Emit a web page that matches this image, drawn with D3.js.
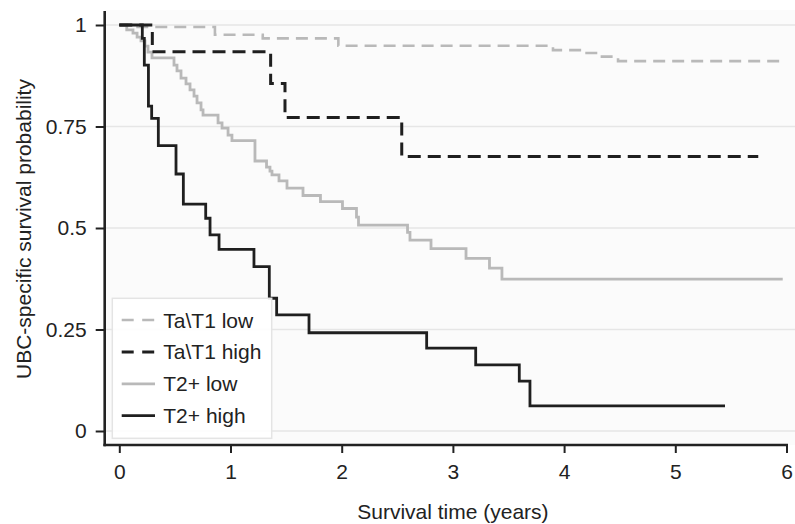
<!DOCTYPE html>
<html><head><meta charset="utf-8">
<script src="https://cdn.jsdelivr.net/npm/d3@7"></script>
<style>
body{margin:0;background:#fff}
svg{display:block;font-family:"Liberation Sans",Arial,Helvetica,sans-serif}
</style>
</head><body><svg id="c" width="795" height="524"></svg>
<script>
// ---- data ----
const seriesNames = ["Ta\\T1 low", "Ta\\T1 high", "T2+ low", "T2+ high"];

const taT1LowTime = [0, 0.12, 0.86, 1.29, 1.97, 3.90, 4.17, 4.32, 4.485, 5.99];
const taT1LowSurv = [1, 0.995, 0.976, 0.967, 0.949, 0.938, 0.931, 0.922, 0.911, 0.911];

const taT1HighTime = [0, 0.297, 1.361, 1.490, 2.540, 5.746];
const taT1HighSurv = [1, 0.934, 0.856, 0.772, 0.676, 0.676];

const t2LowTime = [0, 0.067, 0.123, 0.16, 0.195, 0.231, 0.258, 0.294, 0.492, 0.519, 0.555, 0.600, 0.636, 0.672, 0.699, 0.735, 0.753, 0.888, 0.924, 0.978, 1.013, 1.220, 1.324, 1.355, 1.373, 1.436, 1.508, 1.652, 1.809, 2.007, 2.133, 2.151, 2.592, 2.614, 2.803, 3.118, 3.329, 3.441, 5.966];
const t2LowSurv = [1, 0.988, 0.980, 0.970, 0.961, 0.948, 0.933, 0.919, 0.901, 0.887, 0.869, 0.855, 0.840, 0.825, 0.808, 0.791, 0.778, 0.759, 0.746, 0.729, 0.715, 0.665, 0.650, 0.640, 0.631, 0.616, 0.598, 0.580, 0.565, 0.548, 0.527, 0.507, 0.489, 0.470, 0.449, 0.425, 0.401, 0.374, 0.374];

const t2HighTime = [0, 0.207, 0.225, 0.262, 0.291, 0.351, 0.510, 0.576, 0.777, 0.816, 0.897, 1.211, 1.349, 1.415, 1.706, 2.764, 3.205, 3.597, 3.693, 5.447];
const t2HighSurv = [1, 0.967, 0.901, 0.800, 0.770, 0.703, 0.633, 0.559, 0.524, 0.483, 0.4475, 0.405, 0.327, 0.286, 0.242, 0.204, 0.163, 0.123, 0.062, 0.062];

const xTicks = [0, 1, 2, 3, 4, 5, 6];
const yTicks = [0, 0.25, 0.5, 0.75, 1];
const yTickLabels = ["0", "0.25", "0.5", "0.75", "1"];
const xTitle = "Survival time (years)";
const yTitle = "UBC-specific survival probability";

// ---- layout / styles ----
const svg = d3.select("#c");
const panel = {left: 104.7, right: 795, top: 10, bottom: 445};
const x = d3.scaleLinear().domain([0, 6]).range([119.3, 786.5]);
const y = d3.scaleLinear().domain([0, 1]).range([431, 25]);

const styles = [
  {color: "#b9b9b9", width: 2.6, dash: "12,7"},
  {color: "#1f1f1f", width: 3, dash: "13,7"},
  {color: "#b9b9b9", width: 2.8, dash: null},
  {color: "#1f1f1f", width: 2.8, dash: null}
];
const series = [
  d3.zip(taT1LowTime, taT1LowSurv),
  d3.zip(taT1HighTime, taT1HighSurv),
  d3.zip(t2LowTime, t2LowSurv),
  d3.zip(t2HighTime, t2HighSurv)
];

// panel background
svg.append("rect")
  .attr("x", panel.left).attr("y", panel.top)
  .attr("width", panel.right - panel.left).attr("height", panel.bottom - panel.top)
  .attr("fill", "#fbfbfb");

// gridlines
svg.append("g").selectAll("line").data(yTicks).join("line")
  .attr("x1", panel.left).attr("x2", panel.right)
  .attr("y1", d => y(d)).attr("y2", d => y(d))
  .attr("stroke", "#e6e6e6").attr("stroke-width", 1.6);

// curves
const line = d3.line().x(d => x(d[0])).y(d => y(d[1])).curve(d3.curveStepAfter);
const order = [0, 2, 1, 3];
svg.append("g").selectAll("path").data(order).join("path")
  .attr("d", i => line(series[i]))
  .attr("fill", "none")
  .attr("stroke", i => styles[i].color)
  .attr("stroke-width", i => styles[i].width)
  .attr("stroke-dasharray", i => styles[i].dash)
  .attr("stroke-linejoin", "miter");

// axes
const yAxis = svg.append("g").attr("transform", `translate(${panel.left},0)`)
  .call(d3.axisLeft(y).tickValues(yTicks).tickFormat((d, i) => yTickLabels[i]).tickSize(9).tickPadding(9));
const xAxis = svg.append("g").attr("transform", `translate(0,${panel.bottom})`)
  .call(d3.axisBottom(x).tickValues(xTicks).tickFormat(d3.format("d")).tickSize(8).tickPadding(11.5));
[yAxis, xAxis].forEach(g => {
  g.select(".domain").remove();
  g.selectAll(".tick line").attr("stroke", "#222").attr("stroke-width", 2);
  g.selectAll(".tick text").attr("fill", "#222").style("font-size", "21px");
});
svg.append("line").attr("x1", panel.left).attr("x2", panel.left)
  .attr("y1", 11).attr("y2", panel.bottom + 1.2)
  .attr("stroke", "#222").attr("stroke-width", 2.6);
svg.append("line").attr("x1", panel.left - 1.3).attr("x2", 788)
  .attr("y1", panel.bottom).attr("y2", panel.bottom)
  .attr("stroke", "#222").attr("stroke-width", 2.6);

// titles
svg.append("text").attr("x", x(3)).attr("y", 519)
  .attr("text-anchor", "middle").attr("fill", "#222").style("font-size", "21px").text(xTitle);
svg.append("text").attr("transform", `translate(31,229) rotate(-90)`)
  .attr("text-anchor", "middle").attr("fill", "#222").style("font-size", "21px").text(yTitle);

// legend
const leg = svg.append("g");
leg.append("rect").attr("x", 112.3).attr("y", 298.3).attr("width", 159.4).attr("height", 140)
  .attr("fill", "#ffffff").attr("fill-opacity", 0.9)
  .attr("stroke", "#e4e4e4").attr("stroke-width", 1.5);
const rowY = i => 320 + i * 31.9;
const items = leg.selectAll("g.item").data(seriesNames).join("g").attr("class", "item");
items.append("line")
  .attr("x1", 121.7).attr("x2", 155)
  .attr("y1", (d, i) => rowY(i)).attr("y2", (d, i) => rowY(i))
  .attr("stroke", (d, i) => styles[i].color)
  .attr("stroke-width", (d, i) => styles[i].width)
  .attr("stroke-dasharray", (d, i) => styles[i].dash ? "12,8.5" : null);
items.append("text")
  .attr("x", 163.3).attr("y", (d, i) => rowY(i) + 7.5)
  .attr("fill", "#222").style("font-size", "21px")
  .text(d => d);
</script>
</body></html>
